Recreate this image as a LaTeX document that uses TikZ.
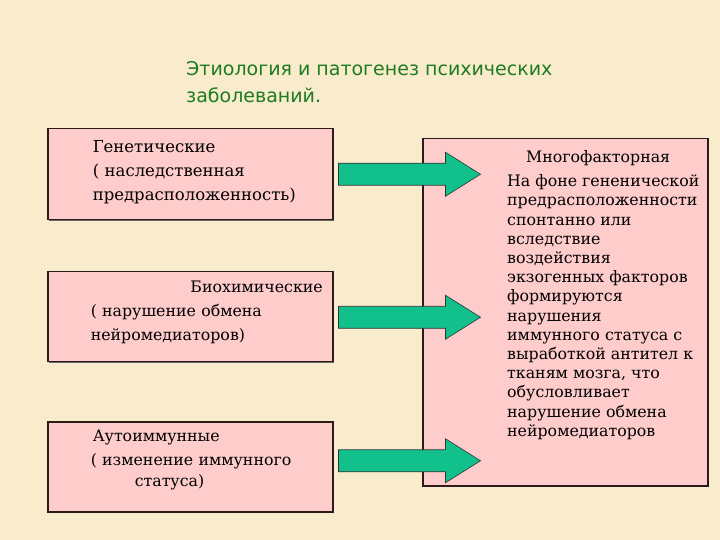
\documentclass[tikz,border=0pt]{standalone}
\usepackage{fontspec}
\setmainfont{DejaVu Serif}
\newfontfamily\titlefont{DejaVu Sans}
\usetikzlibrary{positioning,calc,shadows}
\definecolor{bgbeige}{HTML}{F8ECCC}
\definecolor{boxpink}{HTML}{FFCCCC}
\definecolor{boxline}{HTML}{2B1B1B}
\definecolor{arrgreen}{HTML}{12C08C}
\definecolor{titlegreen}{HTML}{1E7B22}
\newcommand{\indnt}[1]{\hspace*{#1pt}}
\newcommand{\lift}[1]{\rule[-#1pt]{0pt}{1pt}}

\begin{document}
\begin{tikzpicture}[
  x=1pt, y=-1pt,
  cause/.style={
    draw=boxline, line width=1.5pt, fill=boxpink,
    drop shadow={shadow xshift=1.5pt, shadow yshift=-1.5pt, fill=black!60, opacity=1},
    minimum width=285pt, minimum height=90pt, inner sep=0pt,
    text width=285pt, align=left,
    font=\fontsize{15.8}{24}\selectfont},
  result/.style={
    draw=boxline, line width=1.5pt, fill=boxpink,
    drop shadow={shadow xshift=1.5pt, shadow yshift=-1.5pt, fill=black!60, opacity=1},
    minimum width=285pt, minimum height=347pt, inner sep=0pt},
  restext/.style={
    inner sep=0pt, align=left,
    font=\fontsize{15.8}{19.2}\selectfont},
  fatarrow/.style={fill=arrgreen, draw=black!80, line width=0.6pt, line join=miter},
]

  %% ---- Fond ----
  \useasboundingbox[fill=bgbeige] (0,0) rectangle (720,540);

  %% ---- Titre ----
  \node[anchor=north west, inner sep=0pt, align=left, text=titlegreen,
        font=\titlefont\fontsize{19}{27}\selectfont] (title) at (186,61)
    {Этиология и патогенез психических\\заболеваний.};

  %% ---- Причины (слева) ----
  \node[cause, anchor=north west, minimum height=91pt,
        font=\fontsize{16.5}{24}\selectfont] (gen) at (47,128)
    {\indnt{45}Генетические\\\indnt{45}( наследственная\\\indnt{45}предрасположенность)\lift{8}};
  \node[cause, below=50pt of gen] (bio)
    {\hspace*{0pt plus 1filll}\mbox{Биохимические\indnt{10}}\\\indnt{43}( нарушение обмена\\\indnt{43}нейромедиаторов)\lift{11}};
  \node[cause, below=59pt of bio] (aut)
    {\indnt{45}Аутоиммунные\\\indnt{43}( изменение иммунного\\[-3pt]\indnt{87}статуса)\lift{18}};

  %% ---- Итог (справа) ----
  \node[result, anchor=north west] (multi) at (422,138) {};
  \node[restext, anchor=north west] (multitxt) at ($(multi.north west)+(85,12.5)$)
    {\hspace*{19pt}Многофакторная\\[4.8pt]
     На фоне гененической\\
     предрасположенности\\
     спонтанно или\\
     вследствие\\
     воздействия\\
     экзогенных факторов\\
     формируются\\
     нарушения\\
     иммунного статуса с\\
     выработкой антител к\\
     тканям мозга, что\\
     обусловливает\\
     нарушение обмена\\
     нейромедиаторов};

  %% ---- Стрелки ----
  \foreach \b/\dy in {gen/0,bio/1,aut/-6}{
    \draw[fatarrow] ($(\b.east)+(5,\dy)$) ++(0,-11) -- ++(107,0) -- ++(0,-11)
      -- ++(35,22) -- ++(-35,22) -- ++(0,-11) -- ++(-107,0) -- cycle;
  }

\end{tikzpicture}
\end{document}
